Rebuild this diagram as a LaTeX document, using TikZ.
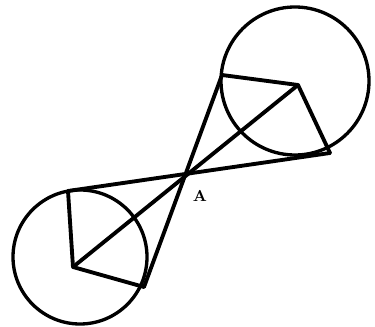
\documentclass[tikz,border=0pt]{standalone}
\usepackage{tikz}
\usetikzlibrary{calc}

\begin{document}
\begin{tikzpicture}[x=0.02cm, y=-0.02cm,
	rim/.style={draw=black, line width=1.9pt},
	seg/.style={draw=black, line width=2.2pt, line cap=round, line join=round},
	lbl/.style={font=\small\bfseries, inner sep=0pt}
	]
\useasboundingbox (0,0) rectangle (375,327);

% circles
\draw[rim] (80,257) circle[radius=67];
\draw[rim] (295,81) circle[radius=74];

% centres and tangent points
\coordinate (o1) at (73,267);
\coordinate (o2) at (298,85);
\coordinate (t1) at (68,191);
\coordinate (t2) at (144,287);
\coordinate (t3) at (222,75);
\coordinate (t4) at (330,153);

% radii
\draw[seg] (t1) -- (o1) -- (t2);
\draw[seg] (t3) -- (o2) -- (t4);

% tangents and centre line
\draw[seg] (t1) -- (t4);
\draw[seg] (t2) -- (t3);
\draw[seg] (o1) -- (o2);

\node[lbl] (A) at (200,196) {A};
\end{tikzpicture}
\end{document}
